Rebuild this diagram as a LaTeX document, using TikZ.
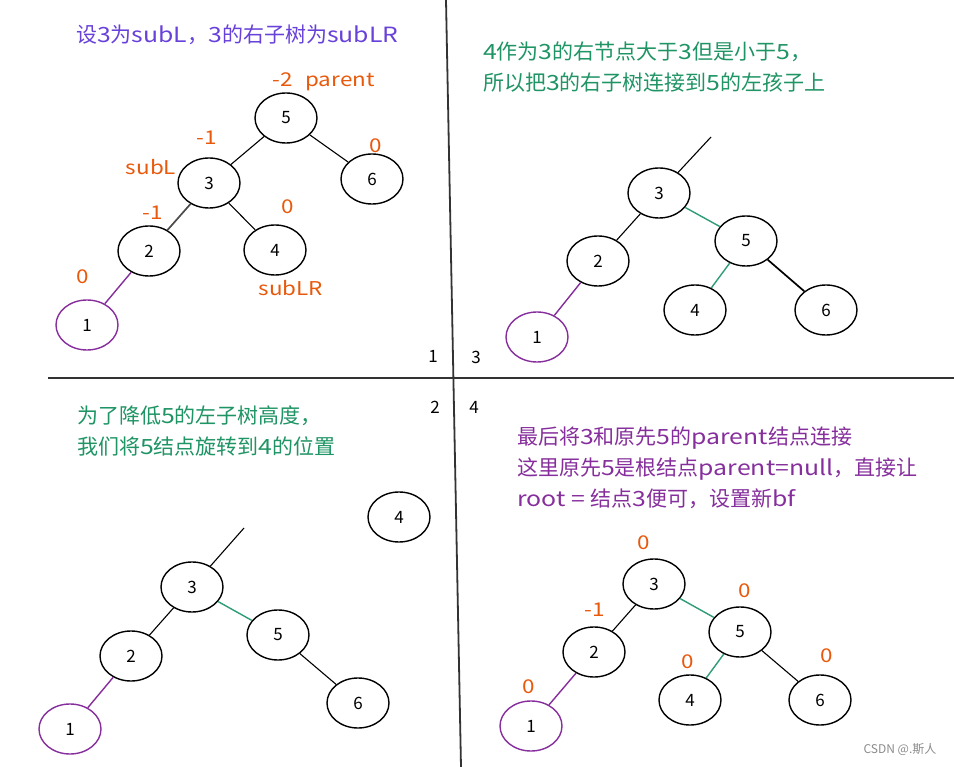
\documentclass[tikz,border=0pt]{standalone}
\usepackage{fontspec}
\setmainfont{Noto Sans CJK SC}
\newfontfamily\latf{Noto Sans CJK SC}[FakeStretch=1.18]
\newcommand{\lt}[1]{{\latf #1}}
\usetikzlibrary{shapes.geometric}
\definecolor{violetT}{HTML}{6741D9}
\definecolor{greenT}{HTML}{1F9464}
\definecolor{greenL}{HTML}{2E9C78}
\definecolor{grape}{HTML}{862E9C}
\definecolor{orangeT}{HTML}{E8590C}
\definecolor{divider}{HTML}{333333}
\begin{document}
\begin{tikzpicture}[x=1pt,y=-1pt,
 tnode/.style={ellipse, draw=black, line width=1.4pt, minimum width=62pt, minimum height=50pt, inner sep=0pt, font=\fontsize{17}{17}\selectfont},
 pnode/.style={tnode, draw=grape},
 edge/.style={line width=1.1pt, black},
 gedge/.style={line width=1.4pt, greenL},
 pedge/.style={line width=1.4pt, grape},
 bf/.style={text=orangeT, font=\fontsize{19}{19}\selectfont\latf, inner sep=0pt},
 title/.style={anchor=west, align=left, inner sep=0pt, font=\fontsize{21}{31}\selectfont},
 num/.style={font=\fontsize{17}{17}\selectfont, inner sep=0pt}
]
\useasboundingbox (0,0) rectangle (954,767);
\fill[white] (0,0) rectangle (954,767);

% dividers
\draw[divider, line width=1.8pt] (446,0) -- (461,767);
\draw[divider, line width=1.8pt] (48,378) -- (954,378);
\node[num] (q1) at (433,356) {1};
\node[num] (q3) at (476,357) {3};
\node[num] (q2) at (435,407) {2};
\node[num] (q4) at (474,407) {4};

% ---------- panel 1 ----------
\node[title, text=violetT] (t1) at (76,35) {设\lt{3}为\lt{subL}，\lt{3}的右子树为\lt{subLR}};
\node[tnode] (a5) at (286,118) {5};
\node[tnode] (a3) at (209,183) {3};
\node[tnode] (a6) at (372,179) {6};
\node[tnode] (a2) at (149,251) {2};
\node[tnode] (a4) at (275,250) {4};
\node[pnode] (a1) at (87,325) {1};
\draw[edge] (a5) -- (a3);
\draw[edge] (a5) -- (a6);
\draw[edge, line width=1.7pt, black!70] (a3) -- (a2);
\draw[edge] (a3) -- (a4);
\draw[pedge] (a2) -- (a1);
\node[bf] (l1) at (283,80) {-2};
\node[bf] (l2) at (340,82) {parent};
\node[bf] (l3) at (207,138) {-1};
\node[bf] (l4) at (151,167) {subL};
\node[bf] (l5) at (376,146) {0};
\node[bf] (l6) at (153,213) {-1};
\node[bf] (l7) at (288,207) {0};
\node[bf] (l8) at (83,277) {0};
\node[bf] (l9) at (291,288) {subLR};

% ---------- panel 2 ----------
\node[title, text=greenT] (t2) at (483,67) {\lt{4}作为\lt{3}的右节点大于\lt{3}但是小于\lt{5}，\\所以把\lt{3}的右子树连接到\lt{5}的左孩子上};
\node[tnode] (b3) at (659,193) {3};
\node[tnode] (b5) at (746,241) {5};
\node[tnode] (b2) at (598,261) {2};
\node[tnode] (b4) at (695,310) {4};
\node[tnode] (b6) at (826,310) {6};
\node[pnode] (b1) at (537,337) {1};
\coordinate (bt) at (711,137);
\draw[edge] (b3) -- (bt);
\draw[gedge] (b3) -- (b5);
\draw[edge] (b3) -- (b2);
\draw[gedge] (b5) -- (b4);
\draw[edge, line width=1.7pt] (b5) -- (b6);
\draw[pedge] (b2) -- (b1);

% ---------- panel 3 ----------
\node[title, text=greenT] (t3) at (77,431) {为了降低\lt{5}的左子树高度，\\我们将\lt{5}结点旋转到\lt{4}的位置};
\node[tnode] (c4) at (399,517) {4};
\node[tnode] (c3) at (192,587) {3};
\node[tnode] (c5) at (278,635) {5};
\node[tnode] (c2) at (131,656) {2};
\node[tnode] (c6) at (358,703) {6};
\node[pnode] (c1) at (70,729) {1};
\coordinate (ct) at (244,528);
\draw[edge] (c3) -- (ct);
\draw[gedge] (c3) -- (c5);
\draw[edge] (c3) -- (c2);
\draw[edge] (c5) -- (c6);
\draw[pedge] (c2) -- (c1);

% ---------- panel 4 ----------
\node[title, text=grape] (t4) at (517,468) {最后将\lt{3}和原先\lt{5}的\lt{parent}结点连接\\这里原先\lt{5}是根结点\lt{parent=null}，直接让\\\lt{root = }结点\lt{3}便可，设置新\lt{bf}};
\node[tnode] (d3) at (654,584) {3};
\node[tnode] (d5) at (740,632) {5};
\node[tnode] (d2) at (594,652) {2};
\node[tnode] (d4) at (690,700) {4};
\node[tnode] (d6) at (820,700) {6};
\node[pnode] (d1) at (531,726) {1};
\draw[edge] (d3) -- (d2);
\draw[gedge] (d3) -- (d5);
\draw[gedge] (d5) -- (d4);
\draw[edge] (d5) -- (d6);
\draw[pedge] (d2) -- (d1);
\node[bf] (m1) at (644,543) {0};
\node[bf] (m2) at (745,591) {0};
\node[bf] (m3) at (595,610) {-1};
\node[bf] (m4) at (688,662) {0};
\node[bf] (m5) at (827,656) {0};
\node[bf] (m6) at (529,687) {0};

\node[text=black!45, font=\fontsize{12}{12}\selectfont, inner sep=0pt] (wm) at (900,750) {CSDN @.斯人};
\end{tikzpicture}
\end{document}
